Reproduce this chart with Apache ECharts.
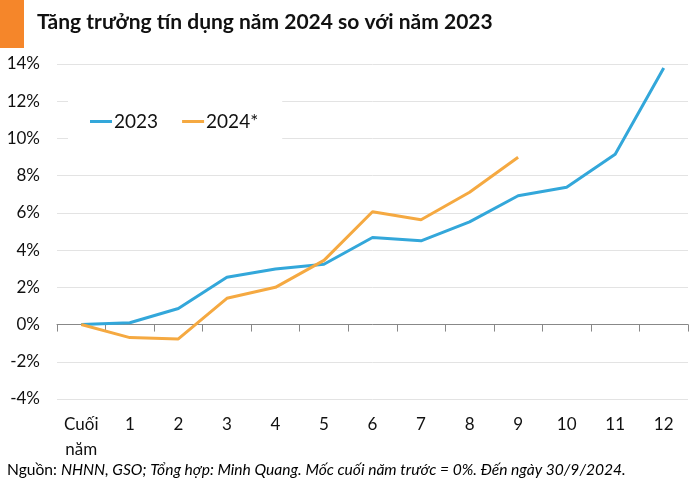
<!DOCTYPE html>
<html><head><meta charset="utf-8">
<script src="https://cdn.jsdelivr.net/npm/echarts@6/dist/echarts.min.js"></script>
<style>html,body{margin:0;padding:0;background:#fff}#c{width:700px;height:490px}</style>
</head><body><div id="c"></div>
<script>
var categories = ['Cuối\nnăm','1','2','3','4','5','6','7','8','9','10','11','12'];
var series2023 = [0, 0.1, 0.86, 2.54, 2.98, 3.24, 4.68, 4.5, 5.52, 6.92, 7.38, 9.15, 13.78];
var series2024 = [0, -0.7, -0.77, 1.41, 2.0, 3.45, 6.06, 5.63, 7.11, 8.99];
var yTicks = {min: -4, max: 14, interval: 2};
var FONT = 'Lato';

var chart = echarts.init(document.getElementById('c'));
chart.setOption({
  animation: false,
  backgroundColor: '#fff',
  graphic: [
    {type: 'rect', shape: {x: 0, y: 0, width: 24, height: 48}, style: {fill: '#F5862A'}},
    {type: 'text', left: 37, top: 12, style: {text: 'Tăng trưởng tín dụng năm 2024 so với năm 2023', font: 'bold 21px Lato', fill: '#111'}},
    {type: 'text', left: 7, top: 462, style: {
      text: '{n|Nguồn: }{i|NHNN, GSO; Tổng hợp: Minh Quang. Mốc cuối năm trước = 0%. Đến ngày 30/9/2024.}',
      rich: {n: {fontFamily: FONT, fontSize: 15.6, color: '#111'}, i: {fontFamily: FONT, fontSize: 15.6, fontStyle: 'italic', color: '#111'}}
    }}
  ],
  grid: {left: 57, right: 12, top: 64, bottom: 91},
  legend: {
    left: 68, top: 100, padding: [12, 24, 12, 22], backgroundColor: '#fff',
    itemWidth: 22, itemHeight: 3, itemGap: 24, icon: 'rect',
    textStyle: {fontFamily: FONT, fontSize: 19, color: '#111', padding: [0, 0, 0, -3]},
    data: ['2023', '2024*']
  },
  xAxis: [
    {type: 'category', data: categories, boundaryGap: true, position: 'bottom',
     axisLine: {show: false, onZero: false}, axisTick: {show: false},
     axisLabel: {fontFamily: FONT, fontSize: 17, color: '#111', margin: 13, lineHeight: 25, interval: 0, verticalAlign: 'top'}},
    {type: 'category', data: categories, boundaryGap: true, position: 'bottom',
     axisLine: {show: true, onZero: true, lineStyle: {color: '#888', width: 1}},
     axisTick: {show: true, inside: false, length: 7, interval: 0, lineStyle: {color: '#888', width: 1}},
     axisLabel: {show: false}}
  ],
  yAxis: {type: 'value', min: yTicks.min, max: yTicks.max, interval: yTicks.interval,
    axisLine: {show: false}, axisTick: {show: false},
    splitLine: {lineStyle: {color: '#e3e3e3', width: 1}},
    axisLabel: {fontFamily: FONT, fontSize: 17, color: '#111', margin: 17, formatter: '{value}%'}},
  series: [
    {name: '2023', type: 'line', data: series2023, xAxisIndex: 1, symbol: 'none', z: 3,
     lineStyle: {color: '#33A7DA', width: 3}, itemStyle: {color: '#33A7DA'}},
    {name: '2024*', type: 'line', data: series2024, xAxisIndex: 1, symbol: 'none', z: 4,
     lineStyle: {color: '#F5A941', width: 3}, itemStyle: {color: '#F5A941'}}
  ]
});
</script></body></html>
